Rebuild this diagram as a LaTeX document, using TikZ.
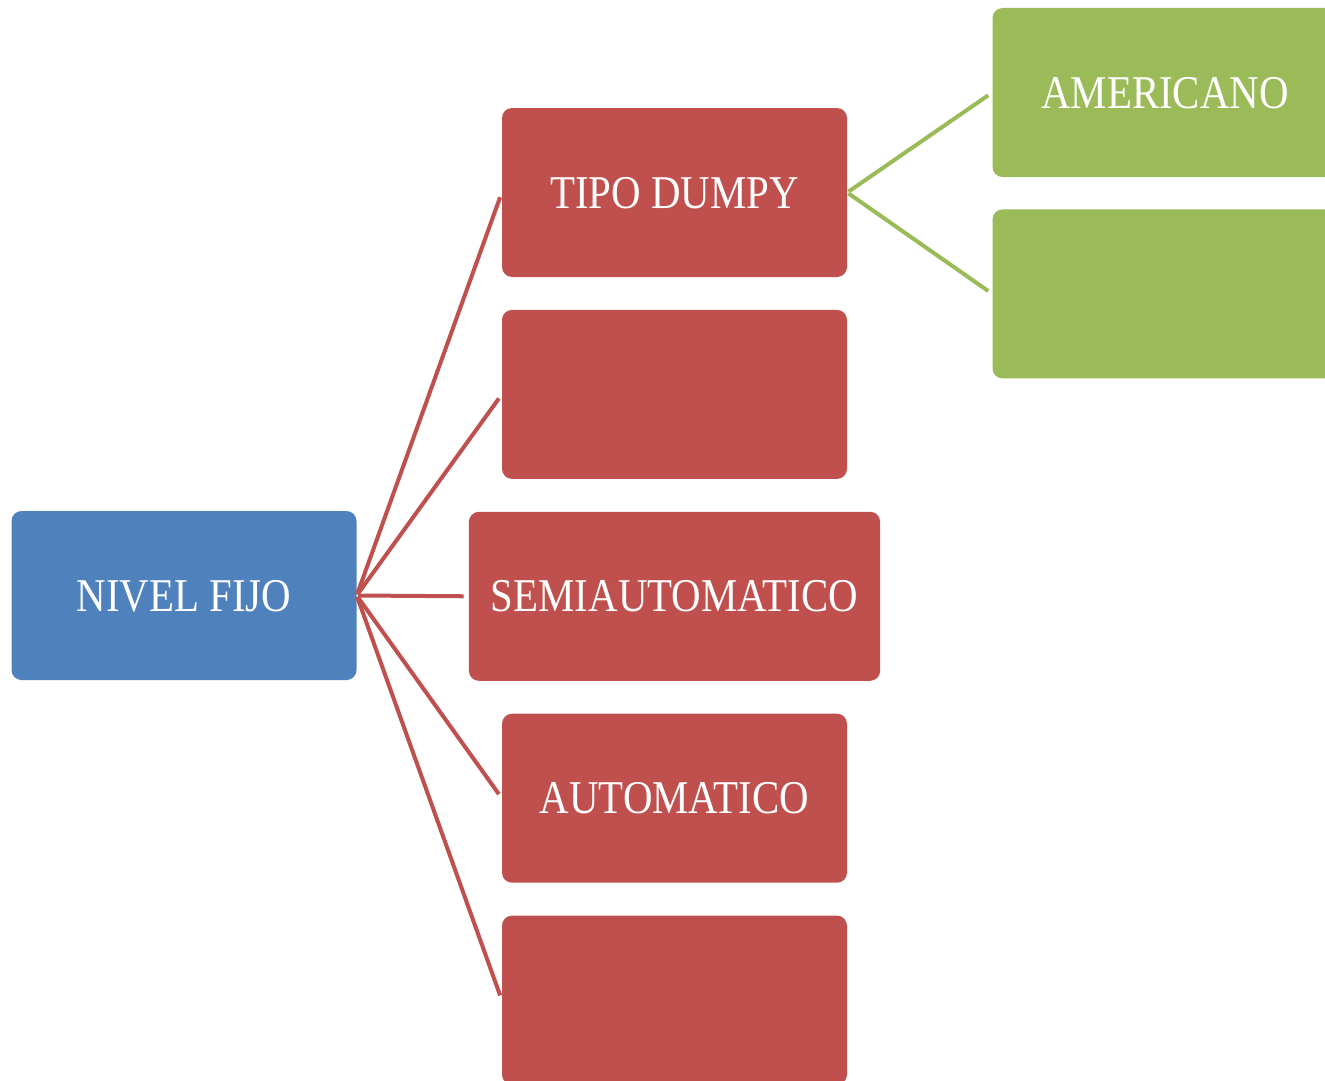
\documentclass[tikz,border=0pt]{standalone}
\usepackage{fontspec}
\setmainfont{Liberation Serif}[FakeStretch=0.87]
\usetikzlibrary{positioning}
\definecolor{nivBlue}{HTML}{4F81BD}
\definecolor{nivRed}{HTML}{C0504D}
\definecolor{nivGreen}{HTML}{9BBB59}
\tikzset{
    box/.style={rounded corners=10pt, minimum width=345pt, minimum height=169pt, inner xsep=22pt, align=center, text=white, font=\fontsize{47}{56}\selectfont, text height=31pt, text depth=0pt},
    root/.style={box, fill=nivBlue},
    kind/.style={box, fill=nivRed},
    sub/.style={box, fill=nivGreen},
    redline/.style={draw=nivRed, line width=4pt, shorten <=1.5pt, shorten >=5pt},
    greenline/.style={draw=nivGreen, line width=4pt, shorten <=1.5pt, shorten >=5pt}
}

\begin{document}
\begin{tikzpicture}[x=1pt, y=-1pt, node distance=32.5pt and 32.5pt]
\clip (0,0) rectangle (1325,1081);
\node[root] (nivel) at (184,595.5) {NIVEL FIJO};
\node[kind] (dumpy) at (674.5,192.5) {TIPO DUMPY};
\node[kind, below=of dumpy] (blank1) {};
\node[kind, below=of blank1] (semi) {SEMIAUTOMATICO};
\node[kind, below=of semi] (auto) {AUTOMATICO};
\node[kind, below=of auto] (blank2) {};
\node[sub] (amer) at (1165,92.5) {AMERICANO};
\node[sub, below=32pt of amer] (blank3) {};
\foreach \t in {dumpy,blank1,semi,auto,blank2}
    \draw[redline] (nivel.east)--(\t.west);
\draw[greenline] (dumpy.east)--(amer.west);
\draw[greenline] (dumpy.east)--(blank3.west);
\end{tikzpicture}
\end{document}
